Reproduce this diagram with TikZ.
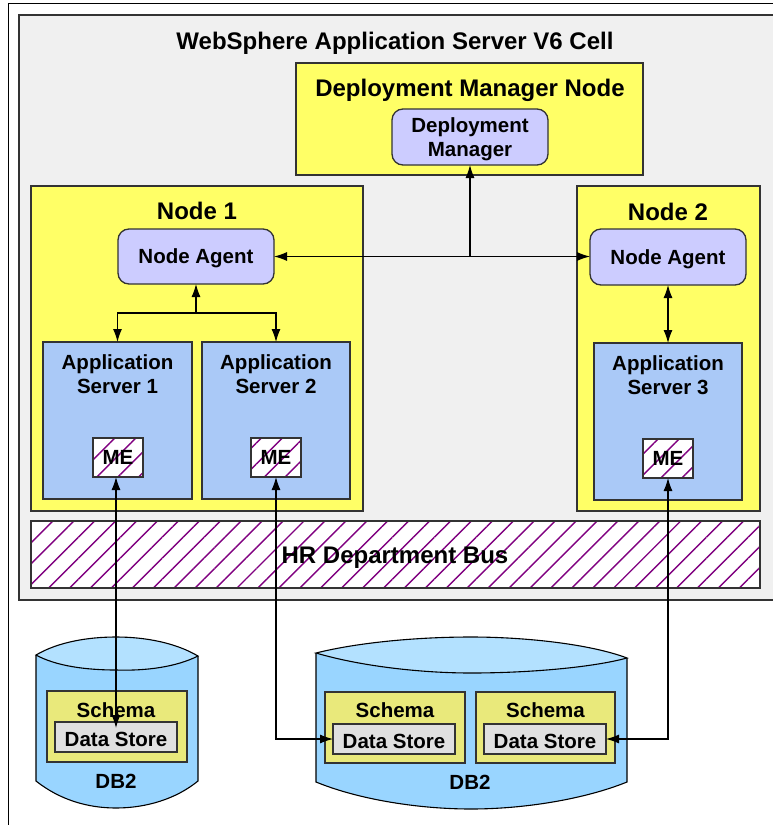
\documentclass[tikz,border=0pt]{standalone}
\usepackage{fontspec}
\setmainfont{Liberation Sans}
\usetikzlibrary{arrows.meta,patterns.meta,calc}
\definecolor{cellgrey}{HTML}{F0F0F0}
\definecolor{nodeyel}{HTML}{FFFF66}
\definecolor{agentlav}{HTML}{CCCCFF}
\definecolor{asblue}{HTML}{AAC9F7}
\definecolor{schemay}{HTML}{E9E97B}
\definecolor{dsgrey}{HTML}{E0E0E0}
\definecolor{cylbody}{HTML}{99D5FF}
\definecolor{cyltop}{HTML}{B3E1FF}
\definecolor{hatchc}{HTML}{800080}
\definecolor{edge}{HTML}{333333}
\begin{document}
\begin{tikzpicture}[x=1pt,y=-1pt,
  >={Latex[length=13pt,width=9pt]},
  big/.style={font=\fontsize{24}{28}\selectfont\bfseries, inner sep=0pt, text height=17.2pt, text depth=0pt},
  txt/.style={font=\fontsize{20.5}{24}\selectfont\bfseries, align=center},
  one/.style={text height=14.7pt, text depth=0pt},
  box/.style={draw=edge, line width=1.3pt, inner sep=0pt, outer sep=0pt, rectangle},
  yelbox/.style={box, fill=nodeyel},
  agent/.style={box, fill=agentlav, rounded corners=11pt, txt},
  asbox/.style={box, fill=asblue},
  hatched/.style={box, preaction={fill=white}, pattern={Lines[angle=45,distance=14.8pt,line width=1.4pt]}, pattern color=hatchc},
  schemabox/.style={box, fill=schemay},
  dsbox/.style={box, fill=dsgrey, txt},
  conn/.style={draw=black, line width=1.1pt},
  cylb/.style={fill=cylbody, draw=black, line width=1.1pt},
  cylt/.style={fill=cyltop, draw=black, line width=1.1pt}
]
\useasboundingbox (0,0) rectangle (772,825);
% outer frame and cell
\draw[black, line width=1pt] (8,830) -- (8,3) -- (780,3);
\node[box, fill=cellgrey, minimum width=770pt, minimum height=585pt] (cell) at (404,307.5) {};
\node[big] (celltitle) at (395,41) {WebSphere Application Server V6 Cell};
% deployment manager node
\node[yelbox, minimum width=347pt, minimum height=112pt] (dmn) at (469.5,119) {};
\node[big] (dmntitle) at (470,88) {Deployment Manager Node};
\node[agent, minimum width=156pt, minimum height=56pt] (dm) at (470,137) {};
\node[txt] (dmt) at (470,139) {Deployment\\Manager};
% node 1
\node[yelbox, minimum width=332pt, minimum height=325pt] (node1) at (197,348.5) {};
\node[big] (n1title) at (197,210.5) {Node 1};
\node[agent, one, minimum width=156pt, minimum height=55pt] (na1) at (196,256.5) {Node Agent};
\node[asbox, minimum width=149pt, minimum height=157pt] (as1) at (117.5,420.5) {};
\node[txt] (as1t) at (117.5,374) {Application\\Server 1};
\node[asbox, minimum width=148pt, minimum height=157pt] (as2) at (276,420.5) {};
\node[txt] (as2t) at (276,374) {Application\\Server 2};
\node[hatched, minimum width=50pt, minimum height=39pt, txt, one] (me1) at (118,457.5) {ME};
\node[hatched, minimum width=50pt, minimum height=39pt, txt, one] (me2) at (276,457.5) {ME};
% node 2
\node[yelbox, minimum width=183pt, minimum height=325pt] (node2) at (668.5,348.5) {};
\node[big] (n2title) at (668,211.5) {Node 2};
\node[agent, one, minimum width=156pt, minimum height=56pt] (na2) at (668,257) {Node Agent};
\node[asbox, minimum width=148pt, minimum height=157pt] (as3) at (668,421.5) {};
\node[txt] (as3t) at (668,375) {Application\\Server 3};
\node[hatched, minimum width=50pt, minimum height=39pt, txt, one] (me3) at (668,458.5) {ME};
% bus
\node[hatched, minimum width=729pt, minimum height=67pt] (bus) at (395.5,554.5) {};
\node[big] (bustitle) at (395,555) {HR Department Bus};
% DB2 cylinder 1
\draw[cylb] (36,655) -- (36,781) .. controls (60,800) and (88,808) .. (116,808) .. controls (146,808) and (176,799) .. (198,781) -- (198,656);
\draw[cylt] (36,655) .. controls (58,642) and (88,637) .. (116,637) .. controls (146,637) and (176,643) .. (198,656) .. controls (176,667) and (146,671) .. (116,670) .. controls (86,670) and (56,666) .. cycle;
\node[schemabox, minimum width=140pt, minimum height=71pt] (sc1) at (117,726.5) {};
\node[txt, one, inner sep=0pt] (sc1t) at (116,709.7) {Schema};
\node[dsbox, minimum width=122pt, minimum height=30pt] (ds1) at (116,737) {};
\node[txt, one, inner sep=0pt] (ds1t) at (116,739) {Data Store};
\node[txt, one, inner sep=0pt] (db1) at (116,781.5) {DB2};
% DB2 cylinder 2
\draw[cylb] (316,653) -- (316,782) .. controls (360,800) and (420,809) .. (471,809) .. controls (525,809) and (585,799) .. (627,782) -- (627,658);
\draw[cylt] (316,653) .. controls (360,642) and (420,637) .. (471,637) .. controls (525,637) and (590,644) .. (627,658) .. controls (590,668) and (525,673) .. (471,673) .. controls (420,673) and (360,666) .. cycle;
\node[schemabox, minimum width=140pt, minimum height=71pt] (sc2) at (395,727.5) {};
\node[txt, one, inner sep=0pt] (sc2t) at (395,710.5) {Schema};
\node[dsbox, minimum width=122pt, minimum height=30pt] (ds2) at (394,739) {};
\node[txt, one, inner sep=0pt] (ds2t) at (394,741) {Data Store};
\node[schemabox, minimum width=139pt, minimum height=71pt] (sc3) at (545.5,727.5) {};
\node[txt, one, inner sep=0pt] (sc3t) at (545.5,710.5) {Schema};
\node[dsbox, minimum width=122pt, minimum height=30pt] (ds3) at (545,739) {};
\node[txt, one, inner sep=0pt] (ds3t) at (545,741) {Data Store};
\node[txt, one, inner sep=0pt] (db2) at (470,782) {DB2};
% connectors
\coordinate (jdm) at (dm.south |- na1.east);
\draw[conn, <->] (na1.east) -- (na1.east -| na2.west);
\draw[conn, ->] (jdm) -- (dm.south);
\coordinate (br) at ($(na1.south)+(0,29)$);
\draw[conn, ->] (br) -- (na1.south);
\draw[conn, ->] (br) -| (as1.north);
\draw[conn, ->] (br) -| (as2.north);
\draw[conn, <->] (na2.south) -- (as3.north);
\draw[conn, <->] (me1.south -| ds1.north) -- ($(ds1.north)+(0,6)$);
\draw[conn, <->] (me2.south) |- (ds2.west);
\draw[conn, <->] (me3.south) |- (ds3.east);
\end{tikzpicture}
\end{document}
